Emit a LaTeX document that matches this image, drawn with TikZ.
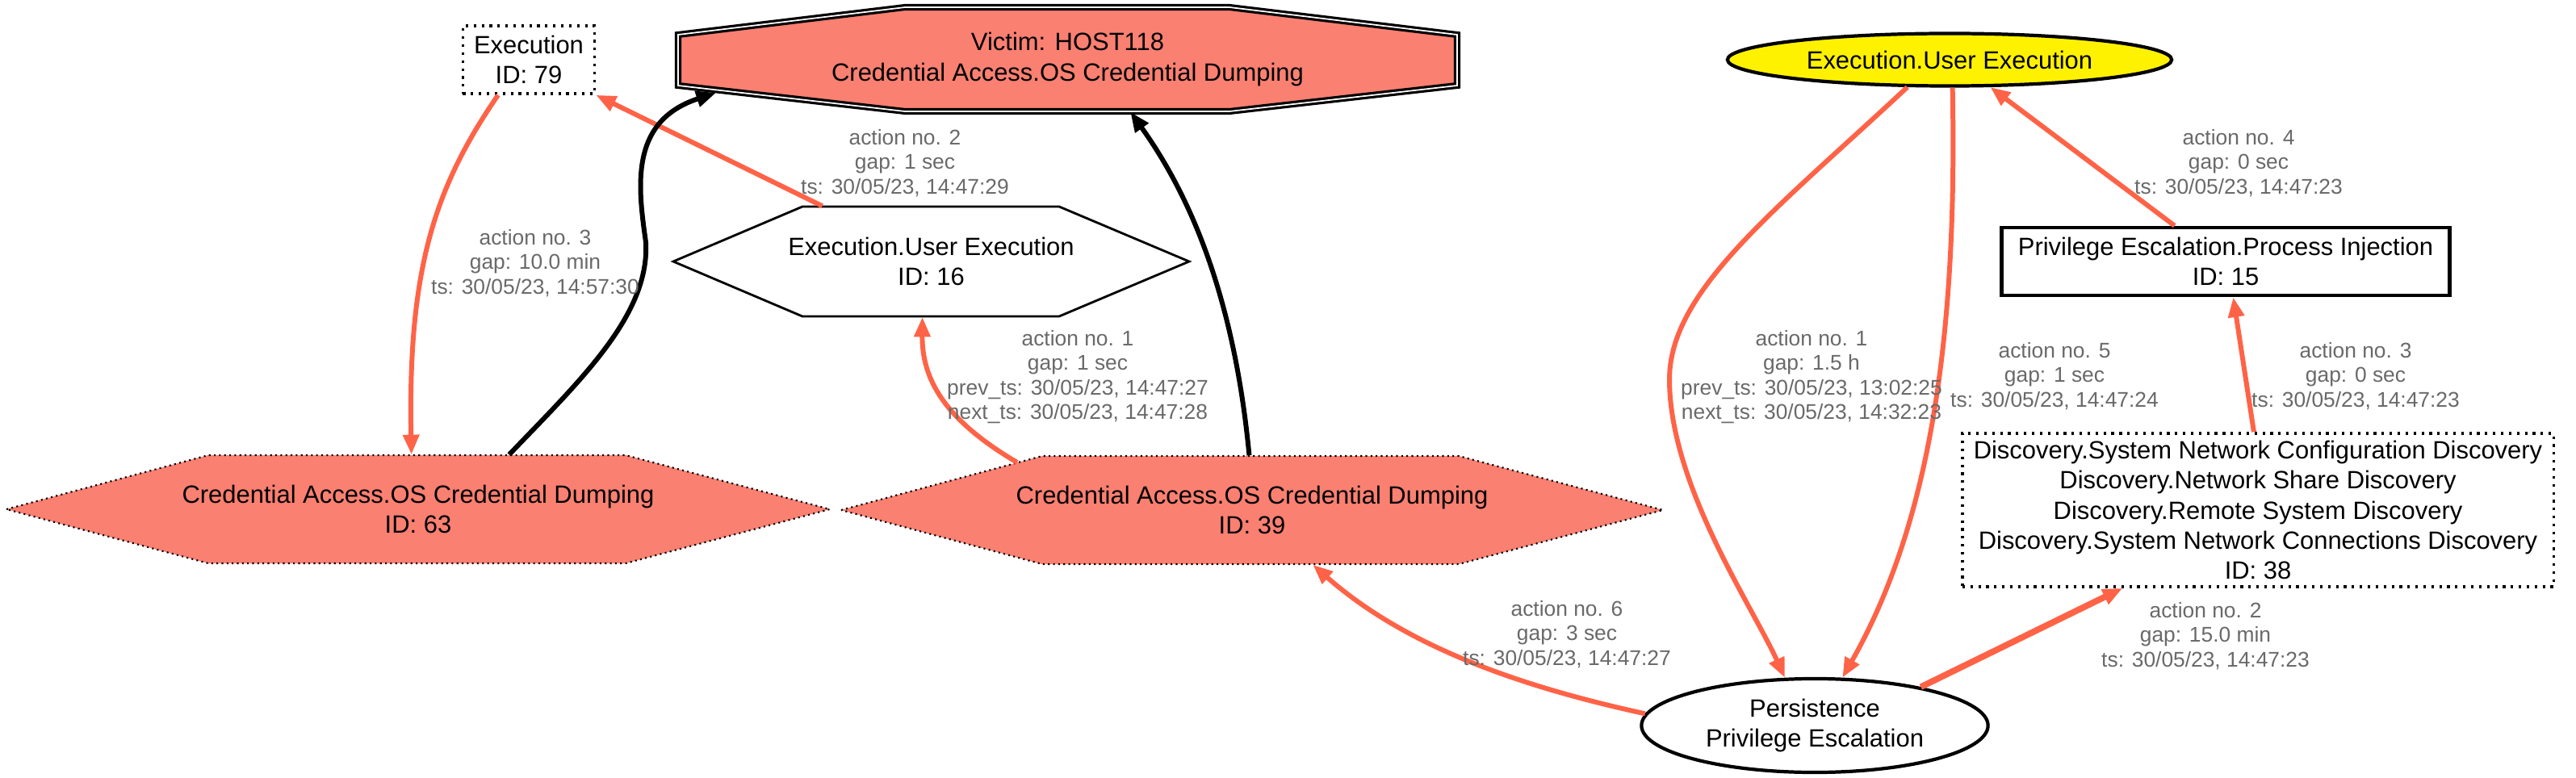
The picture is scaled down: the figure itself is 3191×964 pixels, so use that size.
\documentclass[tikz,border=0pt]{standalone}
\usepackage{fontspec}
\setmainfont{Liberation Sans}
\usetikzlibrary{arrows.meta,shapes.geometric}

\definecolor{salmonc}{RGB}{250,128,114}
\definecolor{tomatoc}{RGB}{255,99,71}
\definecolor{lgray}{RGB}{105,105,105}

\begin{document}
\begin{tikzpicture}[x=0.01cm,y=-0.01cm,
  nd/.style={font=\fontsize{8.8}{10.6}\selectfont,align=center,inner sep=0pt},
  hexd/.style={fill=salmonc,draw=black,line width=0.6pt,dash pattern=on 0.6pt off 1.2pt},
  dt/.style={nd,rectangle,draw,line width=1pt,dash pattern=on 0.9pt off 1.9pt},
  el/.style={nd,ellipse,draw,line width=1.2pt},
  lb/.style={font=\fontsize{7.5}{8.6}\selectfont,text=lgray,align=center,inner sep=0pt},
  a/.style={-{Triangle[length=7pt,width=5.5pt]},line width=1.7pt,draw=tomatoc},
  ab/.style={a,draw=black}]

\useasboundingbox (0,0) rectangle (3191,964);

% outlines of the octagon and the hexagons
\path[fill=salmonc,draw=black,line width=0.9pt,double,double distance=0.5pt]
  (840,43) -- (840,106) -- (1121,138) -- (1523,138) -- (1805,106) -- (1805,43) -- (1523,9) -- (1121,9) -- cycle;
\draw[fill=white,line width=0.8pt] (834,324) -- (994,256) -- (1312,256) -- (1473,324) -- (1312,392) -- (994,392) -- cycle;
\path[hexd] (8,631) -- (258,564) -- (775,564) -- (1028,631) -- (775,698) -- (258,698) -- cycle;
\path[hexd] (1042,632) -- (1291,565) -- (1807,565) -- (2060,632) -- (1807,699) -- (1291,699) -- cycle;

% victim and the left part
\node[nd,minimum width=9.65cm,minimum height=1.29cm] (vic) at (1322.5,73.5) {Victim: HOST118\\Credential Access.OS Credential Dumping};
\coordinate (vic-sw) at (887,115);
\node[dt,minimum width=1.63cm,minimum height=0.84cm] (e79) at (655,74) {Execution\\ID: 79};
\node[nd,minimum width=6.39cm,minimum height=1.36cm] (h16) at (1153.5,324) {Execution.User Execution\\ID: 16};
\node[nd,minimum width=10.2cm,minimum height=1.34cm] (h63) at (518,631) {Credential Access.OS Credential Dumping\\ID: 63};
\node[nd,minimum width=10.18cm,minimum height=1.34cm] (h39) at (1551,632) {Credential Access.OS Credential Dumping\\ID: 39};
\coordinate (h39-nw) at (1260,573);

% the right part
\node[el,fill=yellow,minimum width=5.5cm,minimum height=0.65cm] (yel) at (2415,74) {Execution.User Execution};
\node[nd,rectangle,draw,line width=1.3pt,minimum width=5.55cm,minimum height=0.84cm] (p15) at (2757,324) {Privilege Escalation.Process Injection\\ID: 15};
\node[dt,minimum width=7.32cm,minimum height=1.9cm] (d38) at (2797,632) {Discovery.System Network Configuration Discovery\\Discovery.Network Share Discovery\\Discovery.Remote System Discovery\\Discovery.System Network Connections Discovery\\ID: 38};
\node[el,minimum width=4.29cm,minimum height=1.16cm] (per) at (2248,899) {Persistence\\Privilege Escalation};

% edges
\draw[a] (e79.-131) .. controls (540,230) and (505,330) .. (h63.97);
\draw[a] (h16.153.6) -- (e79.south east);
\draw[ab] (h63.31.7) .. controls (720,470) and (805,390) .. (800,300) .. controls (790,230) and (780,150) .. (vic-sw);
\draw[ab] (h39.93.3) .. controls (1530,380) and (1480,250) .. (vic.-40);
\draw[a] (h39-nw) .. controls (1170,520) and (1142,470) .. (h16.-99);
\draw[a] (per.176.7) .. controls (1880,850) and (1740,800) .. (h39.-42.5);
\draw[a] (yel.-147) .. controls (2200,260) and (2068,360) .. (2068,470) .. controls (2068,600) and (2170,750) .. (per.122);
\draw[a] (yel.-84) .. controls (2425,420) and (2390,650) .. (per.60);
\draw[a] (p15.145) -- (yel.-34);
\draw[a] (d38.93) -- (p15.-78);
\draw[a,line width=2.2pt] (per.20.3) -- (d38.-150);

% edge labels
\node[lb] (l3a) at (663,326) {action no. 3\\gap: 10.0 min\\ts: 30/05/23, 14:57:30};
\node[lb] (l2a) at (1121,202) {action no. 2\\gap: 1 sec\\ts: 30/05/23, 14:47:29};
\node[lb] (l1a) at (1335,467) {action no. 1\\gap: 1 sec\\prev\_ts: 30/05/23, 14:47:27\\next\_ts: 30/05/23, 14:47:28};
\node[lb] (l6) at (1941,786) {action no. 6\\gap: 3 sec\\ts: 30/05/23, 14:47:27};
\node[lb] (l1b) at (2244,467) {action no. 1\\gap: 1.5 h\\prev\_ts: 30/05/23, 13:02:25\\next\_ts: 30/05/23, 14:32:23};
\node[lb] (l5) at (2545,466) {action no. 5\\gap: 1 sec\\ts: 30/05/23, 14:47:24};
\node[lb] (l3b) at (2918,466) {action no. 3\\gap: 0 sec\\ts: 30/05/23, 14:47:23};
\node[lb] (l4) at (2773,202) {action no. 4\\gap: 0 sec\\ts: 30/05/23, 14:47:23};
\node[lb] (l2b) at (2732,788) {action no. 2\\gap: 15.0 min\\ts: 30/05/23, 14:47:23};
\end{tikzpicture}
\end{document}
